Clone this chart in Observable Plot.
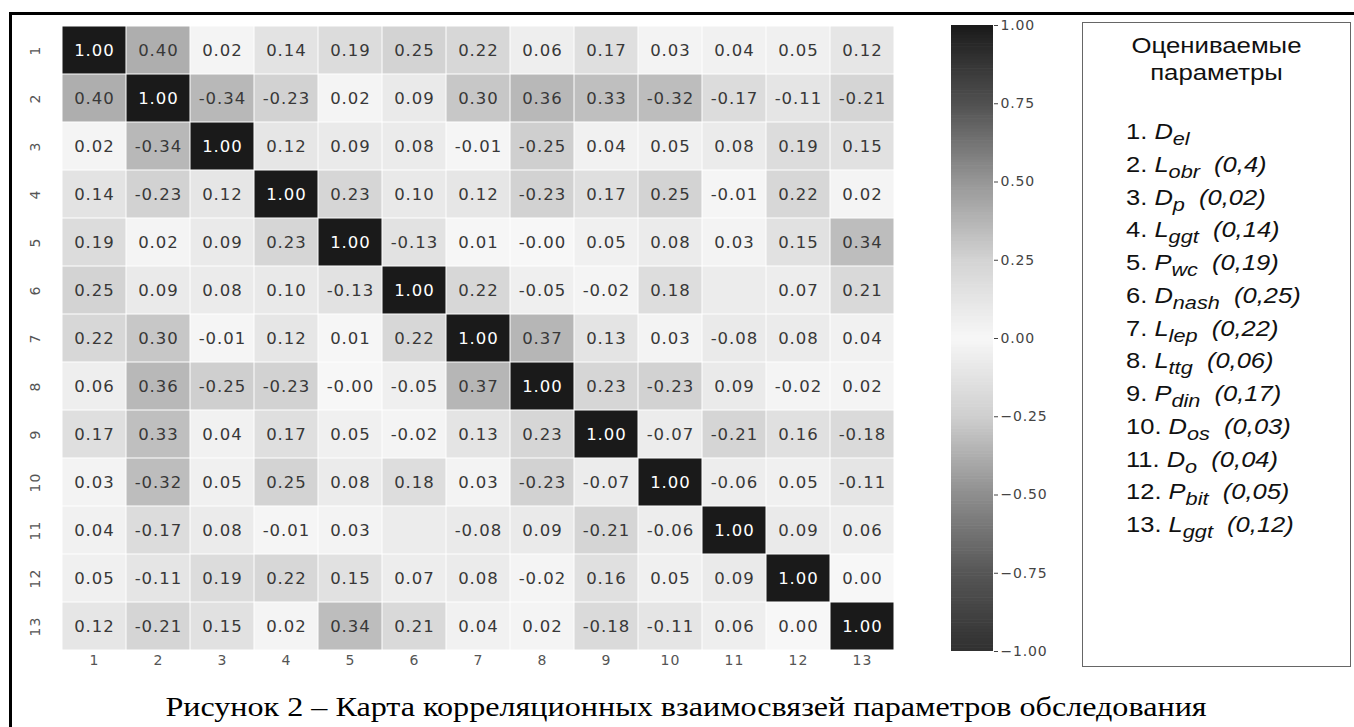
<!DOCTYPE html>
<html>
<head>
<meta charset="utf-8">
<script src="https://cdn.jsdelivr.net/npm/d3@7"></script>
<script src="https://cdn.jsdelivr.net/npm/@observablehq/plot@0.6"></script>
<style>
  html, body { margin: 0; padding: 0; background: #fff; width: 1354px; height: 727px; overflow: hidden; position: relative; }
  #frame { position: absolute; left: 9px; top: 12px; width: 1400px; height: 800px; border: 3px solid #000; box-sizing: border-box; }
  #heat { position: absolute; left: 0; top: 0; }
  #cbar { position: absolute; left: 940px; top: 0; }
  #heat text { letter-spacing: 1px; }
  #cbar text { letter-spacing: 0.8px; }
  #legend { position: absolute; left: 1082px; top: 22px; width: 269px; height: 645px; border: 1.5px solid #666; box-sizing: border-box; background: #fff;
            font-family: "Liberation Sans", Arial, sans-serif; color: #111; }
  #legend .title { text-align: center; font-size: 22px; line-height: 27px; padding-top: 9px; transform: scaleX(1.17); transform-origin: 50% 0; }
  #legend .items { margin-top: 30px; padding-left: 43px; font-size: 22px; transform: scaleX(1.16); transform-origin: 43px 0; }
  #legend .item { height: 32.75px; line-height: 32.75px; white-space: nowrap; }
  #legend i { font-style: italic; }
  #legend sub { font-size: 0.85em; vertical-align: -0.3em; line-height: 0; }
  #caption { position: absolute; left: 0; width: 1372px; top: 692px; text-align: center; font-family: "Liberation Serif", "Times New Roman", serif; font-size: 27px; color: #000; white-space: nowrap; transform: scaleX(1.19); transform-origin: 686px 0; }
</style>
</head>
<body>
<div id="frame"></div>
<div id="heat"></div>
<div id="cbar"></div>
<div id="legend"></div>
<div id="caption"></div>
<script>
// ---- data ----
const params = [1,2,3,4,5,6,7,8,9,10,11,12,13];
const row1  = [1.00, 0.40, 0.02, 0.14, 0.19, 0.25, 0.22, 0.06, 0.17, 0.03, 0.04, 0.05, 0.12];
const row2  = [0.40, 1.00, -0.34, -0.23, 0.02, 0.09, 0.30, 0.36, 0.33, -0.32, -0.17, -0.11, -0.21];
const row3  = [0.02, -0.34, 1.00, 0.12, 0.09, 0.08, -0.01, -0.25, 0.04, 0.05, 0.08, 0.19, 0.15];
const row4  = [0.14, -0.23, 0.12, 1.00, 0.23, 0.10, 0.12, -0.23, 0.17, 0.25, -0.01, 0.22, 0.02];
const row5  = [0.19, 0.02, 0.09, 0.23, 1.00, -0.13, 0.01, -0.00, 0.05, 0.08, 0.03, 0.15, 0.34];
const row6  = [0.25, 0.09, 0.08, 0.10, -0.13, 1.00, 0.22, -0.05, -0.02, 0.18, null, 0.07, 0.21];
const row7  = [0.22, 0.30, -0.01, 0.12, 0.01, 0.22, 1.00, 0.37, 0.13, 0.03, -0.08, 0.08, 0.04];
const row8  = [0.06, 0.36, -0.25, -0.23, -0.00, -0.05, 0.37, 1.00, 0.23, -0.23, 0.09, -0.02, 0.02];
const row9  = [0.17, 0.33, 0.04, 0.17, 0.05, -0.02, 0.13, 0.23, 1.00, -0.07, -0.21, 0.16, -0.18];
const row10 = [0.03, -0.32, 0.05, 0.25, 0.08, 0.18, 0.03, -0.23, -0.07, 1.00, -0.06, 0.05, -0.11];
const row11 = [0.04, -0.17, 0.08, -0.01, 0.03, null, -0.08, 0.09, -0.21, -0.06, 1.00, 0.09, 0.06];
const row12 = [0.05, -0.11, 0.19, 0.22, 0.15, 0.07, 0.08, -0.02, 0.16, 0.05, 0.09, 1.00, 0.00];
const row13 = [0.12, -0.21, 0.15, 0.02, 0.34, 0.21, 0.04, 0.02, -0.18, -0.11, 0.06, 0.00, 1.00];
const matrix = [row1,row2,row3,row4,row5,row6,row7,row8,row9,row10,row11,row12,row13];

const colorTicks = [-1, -0.75, -0.5, -0.25, 0, 0.25, 0.5, 0.75, 1];

const legendTitle = ["Оцениваемые", "параметры"];
const legendSymbols = ["D", "L", "D", "L", "P", "D", "L", "L", "P", "D", "D", "P", "L"];
const legendSubs = ["el", "obr", "p", "ggt", "wc", "nash", "lep", "ttg", "din", "os", "o", "bit", "ggt"];
const legendVals = ["", "(0,4)", "(0,02)", "(0,14)", "(0,19)", "(0,25)", "(0,22)", "(0,06)", "(0,17)", "(0,03)", "(0,04)", "(0,05)", "(0,12)"];
const captionText = "Рисунок 2 – Карта корреляционных взаимосвязей параметров обследования";

// ---- scales/colors ----
const colorDomain = [-1, -0.75, -0.5, -0.25, 0, 0.25, 0.5, 0.75, 1];
const colorRange = ["#303030", "#565656", "#8e8e8e", "#cfcfcf", "#f7f7f7", "#d3d3d3", "#969696", "#505050", "#1a1a1a"];
const colorScale = {type: "linear", domain: colorDomain, range: colorRange, unknown: "#ececec"};

const cells = [];
matrix.forEach((r, i) => r.forEach((v, j) => cells.push({row: params[i], col: params[j], v})));
const fmt = v => Object.is(v, -0) ? "-0.00" : v.toFixed(2);

const heat = Plot.plot({
  width: 920, height: 680,
  marginLeft: 57, marginTop: 25, marginRight: 22, marginBottom: 30,
  style: {fontFamily: "DejaVu Sans", background: "transparent", color: "#555", fontSize: "14px"},
  x: {type: "band", domain: params, padding: 0, label: null, tickSize: 0, tickPadding: 5},
  y: {type: "band", domain: params, padding: 0, axis: null},
  color: colorScale,
  marks: [
    Plot.cell(cells, {x: "col", y: "row", fill: "v", inset: 0.5}),
    Plot.text(cells.filter(d => d.v != null && Math.abs(d.v) <= 0.6), {x: "col", y: "row", text: d => fmt(d.v), fill: "#383838", fontSize: 16.5}),
    Plot.text(cells.filter(d => d.v != null && Math.abs(d.v) > 0.6), {x: "col", y: "row", text: d => fmt(d.v), fill: "#fff", fontSize: 16.5}),
    Plot.text(params, {y: d => d, frameAnchor: "left", dx: -22, rotate: -90, textAnchor: "middle", lineAnchor: "middle", fontSize: 14, fill: "#555"})
  ]
});
document.getElementById("heat").appendChild(heat);

const steps = d3.range(-1, 1, 0.01);
const cbar = Plot.plot({
  width: 130, height: 680,
  marginTop: 25, marginBottom: 29, marginLeft: 11, marginRight: 77,
  style: {fontFamily: "DejaVu Sans", background: "transparent", color: "#444", fontSize: "14px"},
  x: {axis: null},
  y: {domain: [-1, 1], axis: "right", ticks: colorTicks, tickFormat: d3.format(".2f"), tickSize: 4, tickPadding: 3, label: null},
  color: colorScale,
  marks: [
    Plot.rect(steps, {y1: d => d, y2: d => Math.min(1, d + 0.012), fill: d => d + 0.005})
  ]
});
document.getElementById("cbar").appendChild(cbar);

// legend box
const lg = document.getElementById("legend");
const t = document.createElement("div"); t.className = "title"; t.innerHTML = legendTitle.join("<br>"); lg.appendChild(t);
const items = document.createElement("div"); items.className = "items";
params.forEach((p, i) => {
  const d = document.createElement("div"); d.className = "item";
  d.innerHTML = `${p}. <i>${legendSymbols[i]}<sub>${legendSubs[i]}</sub>${legendVals[i] ? "&nbsp; " + legendVals[i] : ""}</i>`;
  items.appendChild(d);
});
lg.appendChild(items);
document.getElementById("caption").textContent = captionText;
</script>
</body>
</html>
